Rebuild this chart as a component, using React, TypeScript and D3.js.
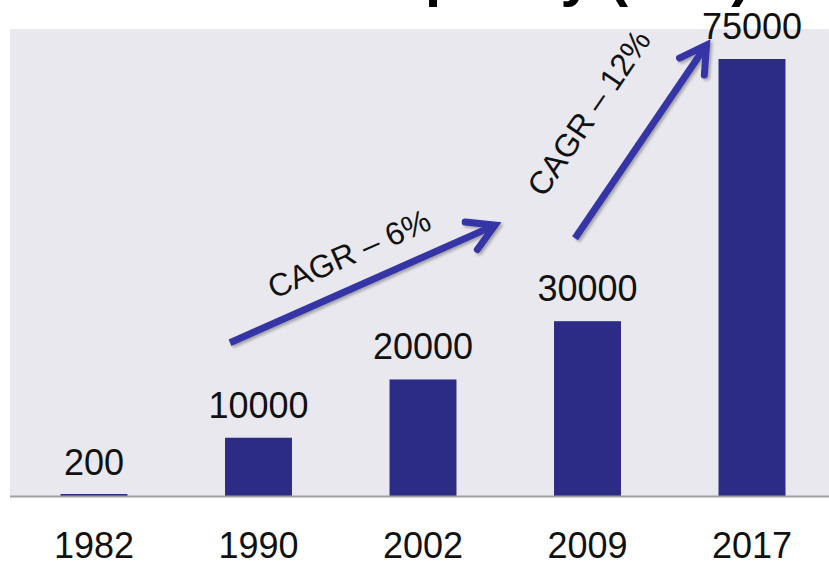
import React from "react";
import * as d3 from "d3";

const years = ["1982", "1990", "2002", "2009", "2017"];
const capacity = [200, 10000, 20000, 30000, 75000];
const titleText = "Installed Capacity (MW)";
const cagrLabels = ["CAGR – 6%", "CAGR – 12%"];
const cagrFromYear = ["1990", "2009"];
const cagrFromValue = [10000, 30000];
const cagrToYear = ["2009", "2017"];
const cagrToValue = [30000, 75000];

const W = 829;
const H = 566;
const FONT = "'Liberation Sans', Arial, Helvetica, sans-serif";
const BAR = "#2C2C86";
const ARROW = "#3636A6";

export default function App() {
  const x = d3
    .scaleBand<string>()
    .domain(years)
    .range([11.75, 834.25])
    .paddingInner(0.593)
    .paddingOuter(0.2965);
  const y = d3.scaleLinear().domain([0, 75000]).range([496, 59]);
  const bw = x.bandwidth();

  // arrow anchor offsets (relative to the bars they connect)
  const tailOff = [
    [5, -95],
    [21, -83],
  ];
  const tipOff = [
    [-59, -96],
    [-12, -14],
  ];
  const labelOff = [33, 58];

  const arrows = cagrLabels.map((label, i) => {
    const x1 = (x(cagrFromYear[i]) ?? 0) + tailOff[i][0];
    const y1 = y(cagrFromValue[i]) + tailOff[i][1];
    const x2 = (x(cagrToYear[i]) ?? 0) + tipOff[i][0];
    const y2 = y(cagrToValue[i]) + tipOff[i][1];
    const ang = Math.atan2(y2 - y1, x2 - x1);
    const back = ang + Math.PI;
    const arm = 30;
    const spread = (30 * Math.PI) / 180;
    const a1 = [x2 + arm * Math.cos(back - spread), y2 + arm * Math.sin(back - spread)];
    const a2 = [x2 + arm * Math.cos(back + spread), y2 + arm * Math.sin(back + spread)];
    const mx = (x1 + x2) / 2;
    const my = (y1 + y2) / 2;
    const nx = Math.sin(ang);
    const ny = -Math.cos(ang);
    const cx = mx + nx * labelOff[i] - (i === 1 ? 4 : 0);
    const cy = my + ny * labelOff[i] + (i === 1 ? 4 : 0);
    const line = d3.line()([
      [x1, y1],
      [x2 - 3 * Math.cos(ang), y2 - 3 * Math.sin(ang)],
    ]);
    const head = d3.line()([a1 as [number, number], [x2, y2], a2 as [number, number]]);
    return { label, line, head, cx, cy, deg: (ang * 180) / Math.PI };
  });

  return (
    <svg
      width={W}
      height={H}
      style={{ position: "absolute", left: 0, top: 0, display: "block", background: "#ffffff" }}
    >
      <defs>
        <filter id="shadow" x="-20%" y="-20%" width="140%" height="140%">
          <feDropShadow dx="2" dy="2" stdDeviation="1.5" floodColor="#000" floodOpacity="0.3" />
        </filter>
      </defs>
      <rect x={10} y={29} width={W - 10} height={496 - 29} fill="#E8E8EE" />
      <text
        x={425}
        y={-5}
        textAnchor="middle"
        fontFamily={FONT}
        fontWeight="bold"
        fontSize={58}
        fill="#000"
      >
        {titleText}
      </text>
      {years.map((yr, i) => {
        const top = Math.min(y(capacity[i]), 494);
        return (
          <g key={yr}>
            <rect x={x(yr)} y={top} width={bw} height={496 - top} fill={BAR} />
            <text
              x={(x(yr) ?? 0) + bw / 2}
              y={y(capacity[i]) - 20}
              textAnchor="middle"
              fontFamily={FONT}
              fontSize={36}
              fill="#111"
            >
              {capacity[i]}
            </text>
            <text
              x={(x(yr) ?? 0) + bw / 2}
              y={558}
              textAnchor="middle"
              fontFamily={FONT}
              fontSize={36}
              fill="#111"
            >
              {yr}
            </text>
          </g>
        );
      })}
      <line x1={10} x2={W} y1={496.5} y2={496.5} stroke="#A0A0A6" strokeWidth={2} />
      {arrows.map((a) => (
        <g key={a.label}>
          <g filter="url(#shadow)">
            <path d={a.line ?? ""} stroke={ARROW} strokeWidth={7} fill="none" strokeLinecap="butt" />
            <path
              d={a.head ?? ""}
              stroke={ARROW}
              strokeWidth={7}
              fill="none"
              strokeLinecap="round"
              strokeLinejoin="miter"
            />
          </g>
          <text
            transform={`translate(${a.cx},${a.cy}) rotate(${a.deg})`}
            textAnchor="middle"
            dominantBaseline="central"
            fontFamily={FONT}
            fontSize={32}
            fill="#111"
          >
            {a.label}
          </text>
        </g>
      ))}
    </svg>
  );
}
